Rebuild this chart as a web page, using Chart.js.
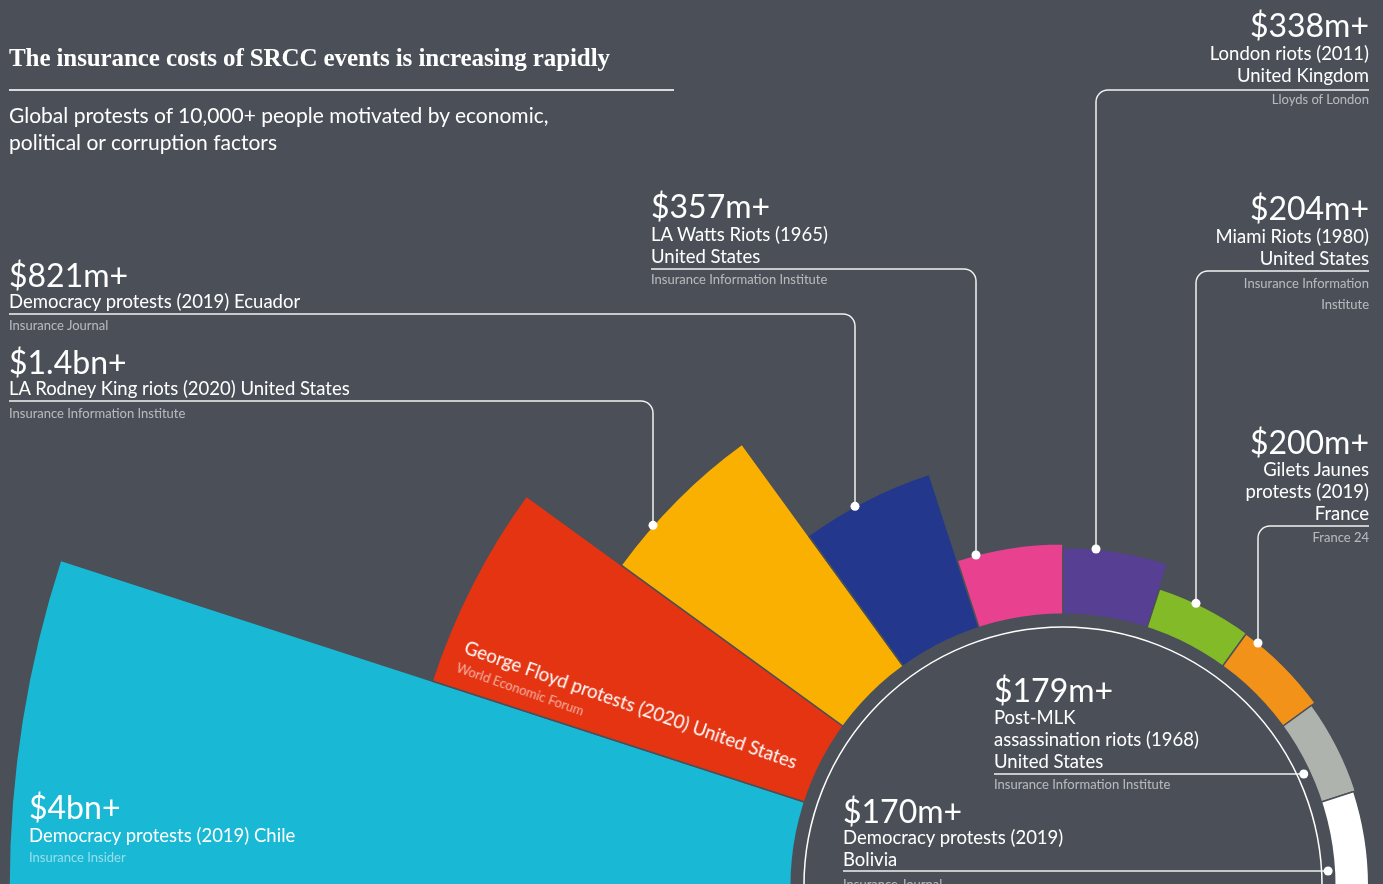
<!DOCTYPE html>
<html><head><meta charset="utf-8">
<script src="https://cdn.jsdelivr.net/npm/chart.js@4.4.1/dist/chart.umd.min.js"></script>
<style>
html,body{margin:0;padding:0;width:1383px;height:884px;overflow:hidden;background:#4b5058;}
#wrap{position:absolute;left:9px;top:-168px;width:2108px;height:2108px;}
.t{position:absolute;white-space:pre;font-family:Lato,"Noto Sans",sans-serif;color:#fff;line-height:1.2;}
</style></head><body>
<div id="wrap"><canvas id="c" width="2108" height="2108"></canvas></div>
<div id="labels"></div>
<script>
// ---------- data ----------
const categories = [
  'Democracy protests (2019) Chile',
  'George Floyd protests (2020) United States',
  'LA Rodney King riots (2020) United States',
  'Democracy protests (2019) Ecuador',
  'LA Watts Riots (1965)\nUnited States',
  'London riots (2011)\nUnited Kingdom',
  'Miami Riots (1980)\nUnited States',
  'Gilets Jaunes\nprotests (2019)\nFrance',
  'Post-MLK\nassassination riots (1968)\nUnited States',
  'Democracy protests (2019)\nBolivia'
];
const costsUSDm = [4000, 2000, 1400, 821, 357, 338, 204, 200, 179, 170];
const costLabels = ['$4bn+', '', '$1.4bn+', '$821m+', '$357m+', '$338m+', '$204m+', '$200m+', '$179m+', '$170m+'];
const sources = [
  'Insurance Insider', 'World Economic Forum', 'Insurance Information Institute', 'Insurance Journal',
  'Insurance Information Institute', 'Lloyds of London', 'Insurance Information\nInstitute', 'France 24',
  'Insurance Information Institute', 'Insurance Journal'
];
const colors = ['#19b8d4', '#e43412', '#fab000', '#23378c', '#e8418f', '#573f93', '#82bb27', '#f39218', '#aeb4ad', '#ffffff'];
const titleText = 'The insurance costs of SRCC events is increasing rapidly';
const subtitleText = 'Global protests of 10,000+ people motivated by economic,\npolitical or corruption factors';

// ---------- layout (page px) ----------
const BG = '#4b5058';
const OX = 9, OY = -168;          // canvas offset on page
const layout = [
  {x: 29,   align: 'left',  vY: 820, tY: 842, sY: 863, srcColor: 'rgba(255,255,255,0.55)'},
  null,
  {x: 9,    align: 'left',  vY: 375, tY: 395, uY: 401, sY: 418.5, vx: 653},
  {x: 9,    align: 'left',  vY: 288, tY: 308, uY: 314, sY: 330.5, vx: 855},
  {x: 651,  align: 'left',  vY: 219, tY: 241, uY: 269, sY: 284.5, vx: 976},
  {x: 1369, align: 'right', vY: 38,  tY: 60,  uY: 90,  sY: 104.5, vx: 1096},
  {x: 1369, align: 'right', vY: 221, tY: 243, uY: 271, sY: 288.5, vx: 1196},
  {x: 1369, align: 'right', vY: 455, tY: 476, uY: 526, sY: 543, vx: 1258},
  {x: 994,  align: 'left',  vY: 703, tY: 724, uY: 774, sY: 789.5, hz: true},
  {x: 843,  align: 'left',  vY: 824, tY: 844, uY: 871, sY: 890, hz: true}
];

const labelsEl = document.getElementById('labels');
function place(text, x, baseline, size, align, color, opts) {
  opts = opts || {};
  const d = document.createElement('div');
  d.className = 't';
  d.textContent = text;
  const asc = opts.asc || 0.987;
  const lh = opts.lh || 1.2;
  d.style.fontSize = size + 'px';
  d.style.lineHeight = (opts.lhPx ? opts.lhPx + 'px' : lh);
  const lhPx = opts.lhPx || size * lh;
  const top = baseline - ((lhPx - size * 1.2) / 2 + asc * size);
  d.style.top = top + 'px';
  d.style.left = x + 'px';
  d.style.color = color;
  if (opts.family) d.style.fontFamily = opts.family;
  if (opts.weight) d.style.fontWeight = opts.weight;
  if (opts.ls) d.style.letterSpacing = opts.ls;
  if (align === 'right') { d.style.transform = 'translateX(-100%)'; d.style.textAlign = 'right'; }
  (opts.parent || labelsEl).appendChild(d);
  return d;
}

// title & subtitle
place(titleText, 9, 66, 25, 'left', '#ffffff', {family: '"Liberation Serif", serif', weight: 700, asc: 0.891 + (1.2 - 1.107) / 2, ls: '-0.1px'});
(function(){ const u = document.createElement('div'); u.style.cssText = 'position:absolute;left:9px;top:89px;width:665px;height:1.5px;background:#d8dadc;'; labelsEl.appendChild(u); })();
place(subtitleText, 9, 122.5, 21, 'left', '#ffffff', {lhPx: 27});

// event labels
layout.forEach((L, i) => {
  if (!L) return;
  place(costLabels[i], L.x, L.vY, 32, L.align, '#ffffff');
  place(categories[i], L.x, L.tY, 18.5, L.align, '#ffffff', {lhPx: 22});
  place(sources[i], L.x, L.sY, 13, L.align, L.srcColor || 'rgba(255,255,255,0.6)', {lhPx: 21});
});

// rotated George Floyd label on the red wedge
(function(){
  const g = document.createElement('div');
  g.style.cssText = 'position:absolute;left:463px;top:653px;width:0;height:0;transform:rotate(19.3deg);transform-origin:0 0;';
  labelsEl.appendChild(g);
  place(categories[1], 0, 0, 18.5, 'left', '#ffffff', {parent: g});
  place(sources[1], -1, 20.5, 13, 'left', 'rgba(255,255,255,0.6)', {parent: g});
})();

// ---------- chart ----------
const decor = {
  id: 'decor',
  afterDatasetsDraw(chart) {
    const ctx = chart.ctx;
    const s = chart.scales.r;
    const cx = s.xCenter, cy = s.yCenter;
    const r0 = s.getDistanceFromCenterForValue(0);
    ctx.save();
    // inner hole + ring
    ctx.beginPath(); ctx.arc(cx, cy, r0, 0, Math.PI * 2); ctx.fillStyle = BG; ctx.fill();
    ctx.beginPath(); ctx.arc(cx, cy, r0 - 13.5, 0, Math.PI * 2);
    ctx.strokeStyle = '#ffffff'; ctx.lineWidth = 1.5; ctx.stroke();
    // leaders
    const meta = chart.getDatasetMeta(0);
    ctx.strokeStyle = '#f2f2f2'; ctx.lineWidth = 1.5; ctx.fillStyle = '#ffffff';
    layout.forEach((L, i) => {
      if (!L || L.uY === undefined) return;
      const uy = L.uY - OY;
      let dx, dy;
      ctx.beginPath();
      if (L.hz) {
        const rr = r0 - 7;
        dy = uy;
        dx = cx + Math.sqrt(rr * rr - (uy - cy) * (uy - cy));
        ctx.moveTo(L.x - OX, uy); ctx.lineTo(dx, uy);
      } else {
        const R = meta.data[i].outerRadius;
        const vx = L.vx - OX;
        dx = vx;
        dy = cy - Math.sqrt(R * R - (vx - cx) * (vx - cx));
        const xs = L.x - OX;
        const sg = xs < vx ? 1 : -1;
        ctx.moveTo(xs, uy);
        ctx.lineTo(vx - sg * 12, uy);
        ctx.arcTo(vx, uy, vx, dy, 12);
        ctx.lineTo(vx, dy);
      }
      ctx.stroke();
      ctx.beginPath(); ctx.arc(dx, dy, 4.5, 0, Math.PI * 2); ctx.fill();
    });
    ctx.restore();
  }
};

new Chart(document.getElementById('c'), {
  type: 'polarArea',
  data: {
    labels: categories,
    datasets: [{
      data: costsUSDm,
      backgroundColor: colors,
      borderColor: BG,
      borderWidth: 1.5,
      angle: 18
    }]
  },
  options: {
    responsive: false,
    animation: false,
    devicePixelRatio: 1,
    layout: {padding: 0},
    plugins: {legend: {display: false}, tooltip: {enabled: false}},
    scales: {
      r: {
        min: -1395, max: 4000, startAngle: -90,
        ticks: {display: false},
        grid: {display: false},
        angleLines: {display: false},
        pointLabels: {display: false}
      }
    }
  },
  plugins: [decor]
});
</script>
</body></html>
